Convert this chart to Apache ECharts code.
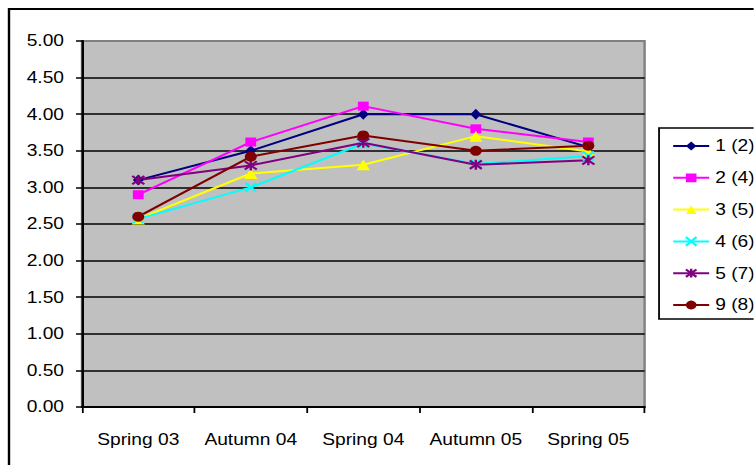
<!DOCTYPE html>
<html>
<head>
<meta charset="utf-8">
<script src="https://cdn.jsdelivr.net/npm/echarts@6/dist/echarts.min.js"></script>
<style>
  html, body { margin: 0; padding: 0; background: #fff; overflow: hidden; }
  /* The chart is laid out at a narrower width and stretched horizontally,
     giving the wide lettering and marks of the original spreadsheet chart. */
  #chart {
    width: 628.33px;
    height: 465px;
    transform: scaleX(1.2);
    transform-origin: 0 0;
  }
</style>
</head>
<body>
<div id="chart"></div>
<script>
// Survey periods along the x axis
const periods = ['Spring 03', 'Autumn 04', 'Spring 04', 'Autumn 05', 'Spring 05'];

// Mean scores per group
const group1 = [3.10, 3.50, 4.00, 4.00, 3.55];
const group2 = [2.90, 3.62, 4.11, 3.80, 3.62];
const group3 = [2.57, 3.19, 3.31, 3.70, 3.49];
const group4 = [2.57, 3.00, 3.60, 3.32, 3.43];
const group5 = [3.10, 3.30, 3.61, 3.31, 3.37];
const group9 = [2.60, 3.42, 3.71, 3.50, 3.57];

const seriesNames = ['1 (2)', '2 (4)', '3 (5)', '4 (6)', '5 (7)', '9 (8)'];
const seriesData = [group1, group2, group3, group4, group5, group9];
const seriesColors = ['#000080', '#FF00FF', '#FFFF00', '#00FFFF', '#800080', '#800000'];

// Marker shapes: diamond, square, triangle, cross, asterisk, circle
const crossPath = 'path://M0,0L10,10M10,0L0,10';
const starPath = 'path://M0,0L10,10M10,0L0,10M5,-1L5,11';
const markers = [
  { symbol: 'diamond', size: [9, 11], stroke: false },
  { symbol: 'rect', size: 9, stroke: false },
  { symbol: 'triangle', size: 11, stroke: false },
  { symbol: crossPath, size: 9, stroke: true },
  { symbol: starPath, size: 10, stroke: true },
  { symbol: 'circle', size: 10, stroke: false }
];

const FONT = 'Liberation Sans, Arial, sans-serif';

const series = seriesData.map((values, i) => ({
  name: seriesNames[i],
  type: 'line',
  data: values,
  symbol: markers[i].symbol,
  symbolSize: markers[i].size,
  showAllSymbol: true,
  lineStyle: { color: seriesColors[i], width: 2 },
  itemStyle: markers[i].stroke
    ? { color: seriesColors[i], borderColor: seriesColors[i], borderWidth: 2 }
    : { color: seriesColors[i], borderWidth: 0 },
  emphasis: { disabled: true },
  animation: false
}));

const chart = echarts.init(document.getElementById('chart'), null, { renderer: 'svg' });

chart.setOption({
  animation: false,
  backgroundColor: '#ffffff',
  textStyle: { fontFamily: FONT, color: '#000' },
  grid: {
    left: 68.33,
    right: 90.83,
    top: 41,
    bottom: 58,
    show: true,
    backgroundColor: '#C0C0C0',
    borderColor: '#808080',
    borderWidth: 2
  },
  xAxis: {
    type: 'category',
    data: periods,
    boundaryGap: true,
    axisLine: { lineStyle: { color: '#000', width: 2 } },
    axisTick: { show: true, inside: false, length: 6, alignWithLabel: false, lineStyle: { color: '#000', width: 1.5 } },
    axisLabel: { color: '#000', fontSize: 16, fontFamily: FONT, margin: 25, interval: 0 },
    splitLine: { show: false }
  },
  yAxis: {
    type: 'value',
    min: 0,
    max: 5,
    interval: 0.5,
    axisLine: { show: true, lineStyle: { color: '#000', width: 2 } },
    axisTick: { show: true, inside: false, length: 5, lineStyle: { color: '#000', width: 1.5 } },
    axisLabel: {
      color: '#000', fontSize: 16, fontFamily: FONT, margin: 15,
      formatter: v => v.toFixed(2)
    },
    splitLine: { show: true, showMaxLine: false, lineStyle: { color: '#000', width: 1.5 } }
  },
  legend: {
    orient: 'vertical',
    left: 555,
    top: 132,
    itemWidth: 30,
    itemHeight: 11,
    itemGap: 13.8,
    selectedMode: false,
    textStyle: { color: '#000', fontSize: 16, fontFamily: FONT, lineHeight: 18 },
    data: seriesNames
  },
  graphic: [
    {
      type: 'rect',
      silent: true,
      shape: { x: 7.5, y: 9, width: 700, height: 600 },
      style: { fill: 'none', stroke: '#000', lineWidth: 2 },
      z: -1
    },
    {
      type: 'rect',
      silent: true,
      shape: { x: 549.2, y: 128, width: 200, height: 191 },
      style: { fill: '#fff', stroke: '#000', lineWidth: 1.5 },
      z: -1
    }
  ],
  series: series
});
</script>
</body>
</html>
